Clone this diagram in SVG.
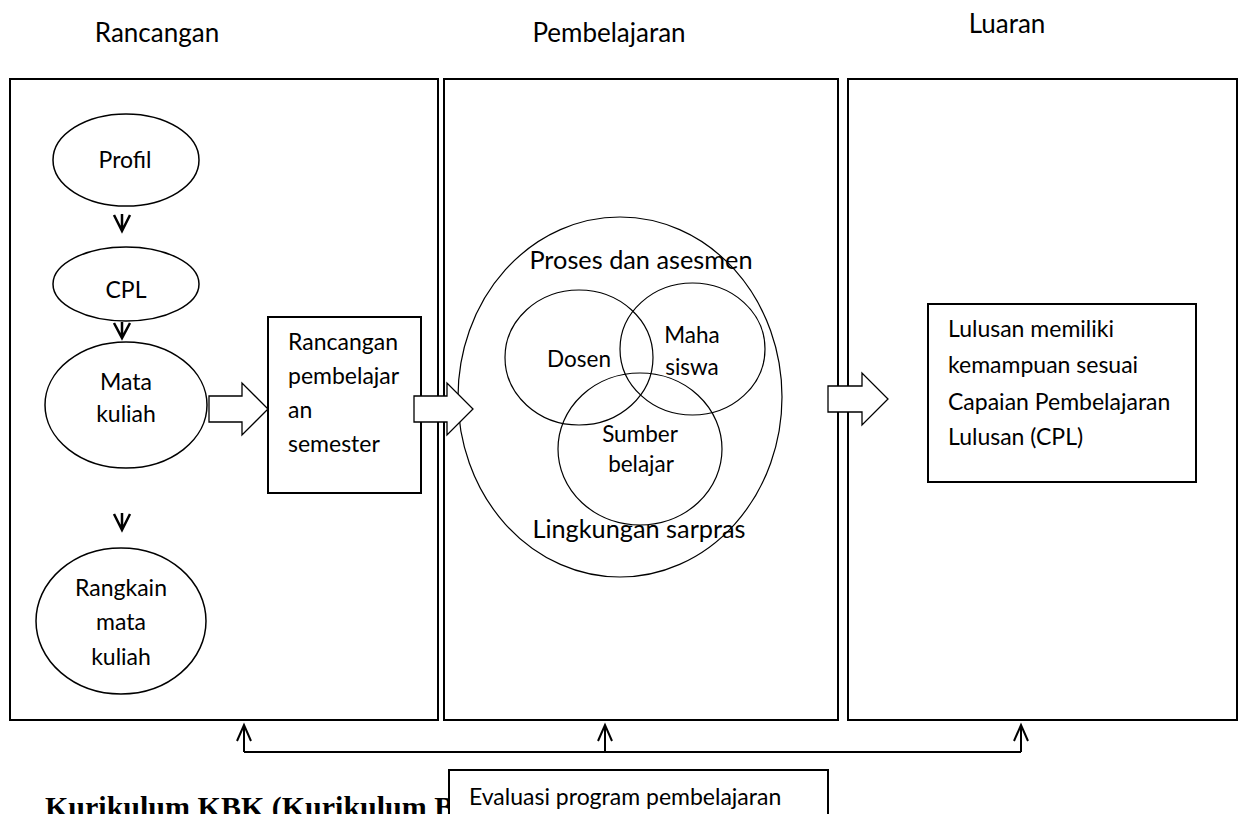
<svg xmlns="http://www.w3.org/2000/svg" width="1243" height="814" viewBox="0 0 1243 814">
<defs>
<style>
.t{font-family:Lato,"Liberation Sans",sans-serif;fill:#000}
.title{font-size:26px}
.n{font-size:23px}
.v{font-size:22.5px}
.big{font-size:25.3px}
.box{fill:#fff;stroke:#000;stroke-width:2}
.ell{fill:#fff;stroke:#000;stroke-width:1.5}
.ven{fill:none;stroke:#000;stroke-width:1.2}
.blk{fill:#fff;stroke:#000;stroke-width:1.3;stroke-linejoin:miter}
.ln{fill:none;stroke:#000;stroke-width:2}
.dn{fill:none;stroke:#000;stroke-width:2.5}
</style>
</defs>
<rect width="1243" height="814" fill="#fff"/>

<g id="titles">
<text class="t title" x="157" y="42" text-anchor="middle">Rancangan</text>
<text class="t title" x="609" y="42" text-anchor="middle">Pembelajaran</text>
<text class="t title" x="1007" y="33" text-anchor="middle">Luaran</text>
</g>

<g id="panel-rancangan"><rect class="box" x="10" y="79" width="428" height="641"/></g>
<g id="panel-pembelajaran"><rect class="box" x="444" y="79" width="394" height="641"/></g>
<g id="panel-luaran"><rect class="box" x="848" y="79" width="389" height="641"/></g>

<g id="node-profil">
<ellipse class="ell" cx="126" cy="160" rx="73" ry="46"/>
<text class="t n" x="125" y="168" text-anchor="middle">Profil</text>
</g>
<g id="node-cpl">
<ellipse class="ell" cx="126" cy="284" rx="73" ry="37"/>
<text class="t n" x="126" y="298" text-anchor="middle">CPL</text>
</g>
<g id="node-matakuliah">
<ellipse class="ell" cx="126" cy="405" rx="81" ry="63"/>
<text class="t n" x="126" y="390" text-anchor="middle">Mata</text>
<text class="t n" x="126" y="422" text-anchor="middle">kuliah</text>
</g>
<g id="node-rangkain">
<ellipse class="ell" cx="121" cy="621" rx="85" ry="73"/>
<text class="t n" x="121" y="596" text-anchor="middle">Rangkain</text>
<text class="t n" x="121" y="630" text-anchor="middle">mata</text>
<text class="t n" x="121" y="665" text-anchor="middle">kuliah</text>
</g>

<g id="node-rps">
<rect class="box" x="268" y="317" width="153" height="176"/>
<text class="t n" x="288" y="350">Rancangan</text>
<text class="t n" x="288" y="384">pembelajar</text>
<text class="t n" x="288" y="418">an</text>
<text class="t n" x="288" y="452">semester</text>
</g>

<g id="node-proses">
<ellipse class="ven" cx="620" cy="397" rx="162" ry="180"/>
<text class="t big" x="641" y="269" text-anchor="middle">Proses dan asesmen</text>
<text class="t big" x="639" y="538" text-anchor="middle">Lingkungan sarpras</text>
</g>
<g id="node-dosen">
<ellipse class="ven" cx="579" cy="357.5" rx="74" ry="67.5"/>
<text class="t v" x="579" y="367" text-anchor="middle">Dosen</text>
</g>
<g id="node-mahasiswa">
<ellipse class="ven" cx="692.5" cy="349" rx="72.5" ry="66"/>
<text class="t v" x="692" y="343" text-anchor="middle">Maha</text>
<text class="t v" x="692" y="375" text-anchor="middle">siswa</text>
</g>
<g id="node-sumber">
<ellipse class="ven" cx="640" cy="449" rx="82" ry="76"/>
<text class="t v" x="640" y="442" text-anchor="middle">Sumber</text>
<text class="t v" x="641" y="472" text-anchor="middle">belajar</text>
</g>

<g id="node-lulusan">
<rect class="box" x="928" y="304" width="268" height="178"/>
<text class="t n" x="948" y="337">Lulusan memiliki</text>
<text class="t n" x="948" y="373">kemampuan sesuai</text>
<text class="t n" x="948" y="410">Capaian Pembelajaran</text>
<text class="t n" x="948" y="445">Lulusan (CPL)</text>
</g>

<text x="45" y="817" font-family="'Liberation Serif',serif" font-weight="bold" font-size="30">Kurikulum KBK (Kurikulum B</text>

<g id="node-evaluasi">
<rect class="box" x="449" y="770" width="379" height="60"/>
<text class="t n" x="469" y="805">Evaluasi program pembelajaran</text>
</g>

<g id="connectors">
<path class="dn" d="M122,214 V231 M114,215 L122,231 L130,215"/>
<path class="dn" d="M122,322 V338 M114,323 L122,338 L130,323"/>
<path class="dn" d="M122,513 V530 M114,514 L122,530 L130,514"/>
<polygon class="blk" points="209,396 242,396 242,383 268,409 242,435 242,422 209,422"/>
<polygon class="blk" points="414,396 447,396 447,383 473,409 447,435 447,422 414,422"/>
<polygon class="blk" points="828,386 862,386 862,373 888,399 862,425 862,412 828,412"/>
<path class="ln" d="M244,752 H1021 M244,752 V725 M605,752 V725 M1021,752 V725"/>
<path class="ln" d="M237,741 L244,725 L251,741 M598,741 L605,725 L612,741 M1014,741 L1021,725 L1028,741"/>
</g>
</svg>
